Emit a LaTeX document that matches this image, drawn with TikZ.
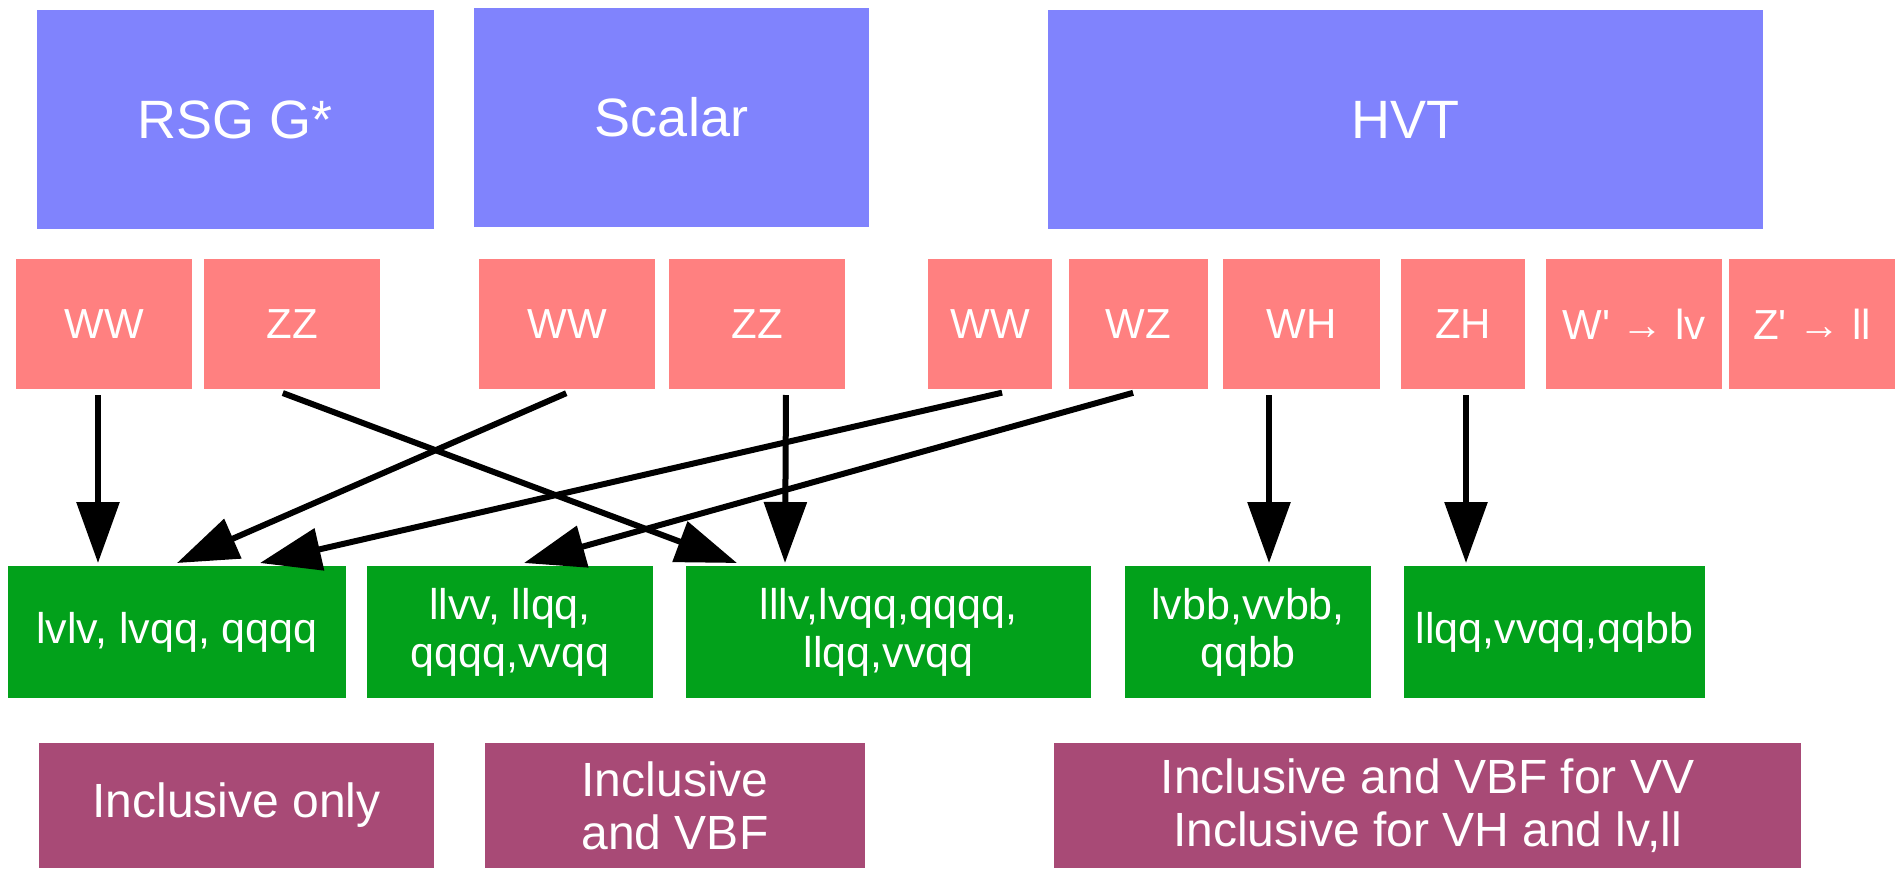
\documentclass[tikz,border=0pt]{standalone}
\usepackage{fontspec}
\setmainfont{Liberation Sans}
\usepackage{xcolor}
\usetikzlibrary{arrows.meta,positioning,calc}

\definecolor{modelblue}{RGB}{128,131,253}
\definecolor{chanred}{RGB}{255,128,128}
\definecolor{finalgreen}{RGB}{2,161,27}
\definecolor{catpurple}{RGB}{168,74,118}

\begin{document}
\begin{tikzpicture}[x=1pt,y=-1pt,line width=6pt,>={Triangle[length=61pt,width=42pt]},
  box/.style={rectangle,inner sep=0pt,text=white,align=center},
  model/.style={box,fill=modelblue,minimum height=219pt,font=\fontsize{54}{60}\selectfont},
  chan/.style={box,fill=chanred,minimum height=130pt,font=\fontsize{42}{48}\selectfont},
  final/.style={box,fill=finalgreen,minimum height=132pt,font=\fontsize{43}{48}\selectfont},
  cat/.style={box,fill=catpurple,minimum height=125pt,font=\fontsize{48}{53}\selectfont}]
\useasboundingbox (0,0) rectangle (1895,868);

% models
\node (rsg) [model,minimum width=397pt] at (235.5,119.5) {RSG G*};
\node (scalar) [model,minimum width=395pt] at (671.5,117.5) {Scalar};
\node (hvt) [model,minimum width=715pt] at (1405.5,119.5) {HVT};

% decay channels
\node (rww) [chan,minimum width=176pt] at (104,324) {WW};
\node (rzz) [chan,minimum width=176pt] at (292,324) {ZZ};
\node (sww) [chan,minimum width=176pt] at (567,324) {WW};
\node (szz) [chan,minimum width=176pt] at (757,324) {ZZ};
\node (hww) [chan,minimum width=124pt] at (990,324) {WW};
\node (hwz) [chan,minimum width=139pt] at (1138.5,324) {WZ};
\node (hwh) [chan,minimum width=157pt] at (1301.5,324) {WH};
\node (hzh) [chan,minimum width=124pt] at (1463,324) {ZH};
\node (hwp) [chan,minimum width=176pt] at (1634,324) {W\textquotesingle{} → lv};
\node (hzp) [chan,minimum width=166pt] at (1812,324) {Z\textquotesingle{} → ll};

% final states
\node (g1) [final,minimum width=338pt] at (177,632) {lvlv, lvqq, qqqq};
\node (g2) [final,minimum width=286pt] at (510,632) {llvv, llqq,\\qqqq,vvqq};
\node (g3) [final,minimum width=405pt] at (888.5,632) {lllv,lvqq,qqqq,\\llqq,vvqq};
\node (g4) [final,minimum width=246pt] at (1248,632) {lvbb,vvbb,\\qqbb};
\node (g5) [final,minimum width=301pt] at (1554.5,632) {llqq,vvqq,qqbb};

% categories
\node (p1) [cat,minimum width=395pt] at (236.5,805.5) {Inclusive only};
\node (p2) [cat,minimum width=380pt] at (675,805.5) {Inclusive\\and VBF};
\node (p3) [cat,minimum width=747pt] at (1427.5,805.5) {Inclusive and VBF for VV\\Inclusive for VH and lv,ll};

\draw[->,shorten <=3pt] ([xshift=-6pt]rww.south) -- ([xshift=-79pt]g1.north);
\draw[->,shorten <=3pt] ([xshift=-12pt]rzz.south) -- ([xshift=-151.5pt]g3.north);
\draw[->,shorten <=3pt] ([xshift=2pt]sww.south) -- (g1.north);
\draw[->,shorten <=3pt] ([xshift=29pt]szz.south) -- ([xshift=-103.5pt]g3.north);
\draw[->,shorten <=3pt] ([xshift=15pt]hww.south) -- ([xshift=83pt]g1.north);
\draw[->,shorten <=3pt] ([xshift=-2.5pt]hwz.south) -- ([xshift=14pt]g2.north);
\draw[->,shorten <=3pt] ([xshift=-32.5pt]hwh.south) -- ([xshift=21pt]g4.north);
\draw[->,shorten <=3pt] ([xshift=3pt]hzh.south) -- ([xshift=-88.5pt]g5.north);
\end{tikzpicture}
\end{document}
